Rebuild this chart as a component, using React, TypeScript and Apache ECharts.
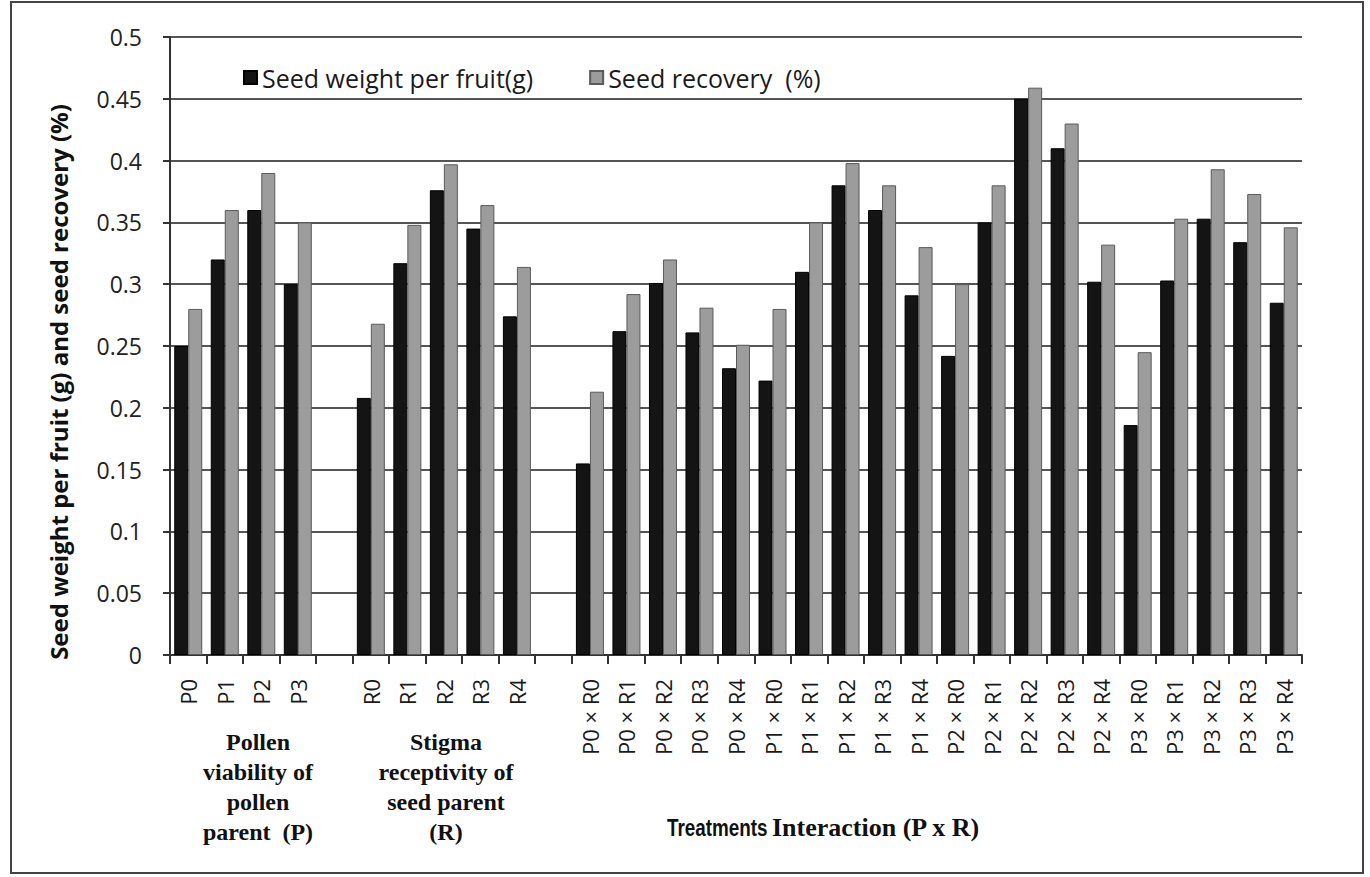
import React, { useEffect, useRef } from "react";
import * as echarts from "echarts";

const categories = [
  "P0", "P1", "P2", "P3", " ",
  "R0", "R1", "R2", "R3", "R4", "  ",
  "P0 × R0", "P0 × R1", "P0 × R2", "P0 × R3", "P0 × R4",
  "P1 × R0", "P1 × R1", "P1 × R2", "P1 × R3", "P1 × R4",
  "P2 × R0", "P2 × R1", "P2 × R2", "P2 × R3", "P2 × R4",
  "P3 × R0", "P3 × R1", "P3 × R2", "P3 × R3", "P3 × R4",
];

const seedWeight: (number | string)[] = [
  0.25, 0.32, 0.36, 0.30, "-",
  0.208, 0.317, 0.376, 0.345, 0.274, "-",
  0.155, 0.262, 0.301, 0.261, 0.232,
  0.222, 0.31, 0.38, 0.36, 0.291,
  0.242, 0.35, 0.45, 0.41, 0.302,
  0.186, 0.303, 0.353, 0.334, 0.285,
];

const seedRecovery: (number | string)[] = [
  0.28, 0.36, 0.39, 0.35, "-",
  0.268, 0.348, 0.397, 0.364, 0.314, "-",
  0.213, 0.292, 0.32, 0.281, 0.251,
  0.28, 0.35, 0.398, 0.38, 0.33,
  0.30, 0.38, 0.459, 0.43, 0.332,
  0.245, 0.353, 0.393, 0.373, 0.346,
];

const seriesNames = ["Seed weight per fruit(g)", "Seed recovery  (%)"];
const yAxisTitle = "Seed weight per fruit (g) and seed recovery (%)";

export default function App() {
  const ref = useRef<HTMLDivElement>(null);
  useEffect(() => {
    if (!ref.current) return;
    const chart = echarts.init(ref.current, null, { renderer: "svg" });
    const serif = "'Liberation Serif', 'Times New Roman', serif";
    const sans = "'Open Sans', 'Noto Sans', sans-serif";
    chart.setOption({
      animation: false,
      backgroundColor: "#ffffff",
      legend: {
        top: 60,
        left: 238,
        itemWidth: 13,
        itemHeight: 13,
        itemGap: 56,
        icon: "rect",
        textStyle: { fontSize: 25, color: "#1a1a1a", fontFamily: sans },
        data: seriesNames,
      },
      grid: { left: 170, right: 68, top: 37, bottom: 222, containLabel: false },
      xAxis: {
        type: "category",
        data: categories,
        axisLine: { lineStyle: { color: "#333", width: 2 } },
        axisTick: { show: true, length: 9, interval: 0, lineStyle: { color: "#333", width: 2 } },
        axisLabel: {
          interval: 0,
          rotate: 90,
          margin: 24,
          fontSize: 22,
          color: "#1a1a1a",
          fontFamily: sans,
        },
      },
      yAxis: {
        type: "value",
        min: 0,
        max: 0.5,
        interval: 0.05,
        axisLine: { show: true, lineStyle: { color: "#333", width: 2 } },
        axisTick: { show: true, length: 7, lineStyle: { color: "#333", width: 2 } },
        axisLabel: { fontSize: 23, color: "#222", margin: 28, fontFamily: sans },
        splitLine: { lineStyle: { color: "#555", width: 2 } },
      },
      series: [
        {
          name: seriesNames[0],
          type: "bar",
          data: seedWeight,
          barWidth: 14,
          barGap: "0%",
          itemStyle: { color: "#141414", borderColor: "#000", borderWidth: 1 },
        },
        {
          name: seriesNames[1],
          type: "bar",
          data: seedRecovery,
          barWidth: 14,
          barGap: "0%",
          itemStyle: { color: "#9c9c9c", borderColor: "#5a5a5a", borderWidth: 1 },
        },
      ],
      graphic: [
        {
          type: "rect",
          shape: { x: 11, y: 2, width: 1352, height: 871 },
          style: { fill: "none", stroke: "#444", lineWidth: 2 },
          silent: true,
        },
        {
          type: "text",
          x: 58,
          y: 382,
          rotation: Math.PI / 2,
          style: {
            text: yAxisTitle,
            font: `bold 24px ${sans}`,
            fill: "#111",
            align: "center",
            verticalAlign: "middle",
          },
        },
        {
          type: "text",
          x: 258,
          y: 727,
          style: {
            text: "Pollen\nviability of\npollen\nparent  (P)",
            font: `bold 24px ${serif}`,
            fill: "#111",
            align: "center",
            lineHeight: 30,
          },
        },
        {
          type: "text",
          x: 446,
          y: 727,
          style: {
            text: "Stigma\nreceptivity of\nseed parent\n(R)",
            font: `bold 24px ${serif}`,
            fill: "#111",
            align: "center",
            lineHeight: 30,
          },
        },
        {
          type: "text",
          x: 667,
          y: 816,
          scaleX: 0.82,
          style: {
            text: "Treatments",
            font: `bold 23px 'Liberation Sans', sans-serif`,
            fill: "#111",
          },
        },
        {
          type: "text",
          x: 772,
          y: 814,
          style: {
            text: "Interaction (P x R)",
            font: `bold 26px ${serif}`,
            fill: "#111",
          },
        },
      ],
    });
    return () => chart.dispose();
  }, []);
  return (
    <div
      ref={ref}
      style={{ position: "fixed", left: 0, top: 0, width: 1370, height: 877 }}
    />
  );
}
